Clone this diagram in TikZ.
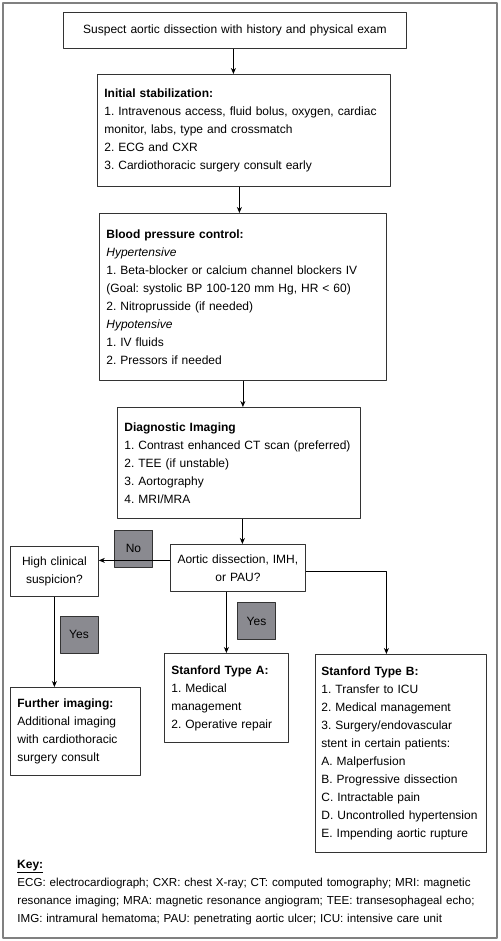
\documentclass[tikz,border=0pt]{standalone}
\usepackage{fontspec}
\setmainfont{Liberation Sans}
\usetikzlibrary{positioning,arrows.meta}
\definecolor{tagfill}{RGB}{138,138,144}
\definecolor{framegray}{RGB}{128,128,128}
\frenchspacing
\tikzset{
  box/.style={draw=black!80, line width=0.8pt, inner xsep=7pt, inner ysep=0pt,
    align=left, anchor=north west, font=\fontsize{12}{18}\selectfont},
  midbox/.style={box, align=center, inner xsep=2pt},
  tag/.style={draw=black!80, fill=tagfill, line width=0.8pt, inner sep=0pt,
    minimum width=38pt, minimum height=37pt, font=\fontsize{12}{14}\selectfont},
  flow/.style={-{Stealth[length=6pt,width=5pt]}, line width=0.8pt}
}
\begin{document}
\begin{tikzpicture}[x=1pt,y=-1pt,line join=round]
	\useasboundingbox (0,0) rectangle (500,941);
	\draw[framegray, line width=1.5pt] (3,3) rectangle (497,938);
	% main column
	\node[midbox, minimum width=343pt, minimum height=36pt, text width=339pt] (susp) at (63,12)
		{Suspect aortic dissection with history and physical exam};
	\node[box, minimum width=293pt, minimum height=112pt, text width=279pt] (init) at (97,74)
		{\textbf{Initial stabilization:}\\
		1. Intravenous access, fluid bolus, oxygen, cardiac\\
		monitor, labs, type and crossmatch\\
		2. ECG and CXR\\
		3. Cardiothoracic surgery consult early};
	\node[box, minimum width=287pt, minimum height=167pt, text width=273pt] (bp) at (99,213)
		{\textbf{Blood pressure control:}\\
		\textit{Hypertensive}\\
		1. Beta-blocker or calcium channel blockers IV\\
		(Goal: systolic BP 100-120 mm Hg, HR < 60)\\
		2. Nitroprusside (if needed)\\
		\textit{Hypotensive}\\
		1. IV fluids\\
		2. Pressors if needed};
	\node[box, minimum width=243pt, minimum height=111pt, text width=229pt] (diag) at (117,407)
		{\textbf{Diagnostic Imaging}\\
		1. Contrast enhanced CT scan (preferred)\\
		2. TEE (if unstable)\\
		3. Aortography\\
		4. MRI/MRA};
	\node[midbox, minimum width=135pt, minimum height=47pt, text width=131pt] (dec) at (170,544)
		{Aortic dissection, IMH,\\ or PAU?};
	% branches
	\node[midbox, minimum width=88pt, minimum height=50pt, text width=84pt] (high) at (10,546)
		{High clinical\\ suspicion?};
	\node[box, minimum width=130pt, minimum height=88pt, text width=116pt] (further) at (10,687)
		{\textbf{Further imaging:}\\
		Additional imaging\\
		with cardiothoracic\\
		surgery consult};
	\node[box, minimum width=124pt, minimum height=89pt, text width=110pt] (typeA) at (164,653)
		{\textbf{Stanford Type A:}\\
		1. Medical\\
		management\\
		2. Operative repair};
	\node[box, minimum width=171pt, minimum height=198pt, text width=159pt, inner xsep=6pt] (typeB) at (315,654)
		{\textbf{Stanford Type B:}\\
		1. Transfer to ICU\\
		2. Medical management\\
		3. Surgery/endovascular\\
		stent in certain patients:\\
		A. Malperfusion\\
		B. Progressive dissection\\
		C. Intractable pain\\
		D. Uncontrolled hypertension\\
		E. Impending aortic rupture};
	% answers
	\node[tag] (no) at (133.5,548.5) {No};
	\node[tag] (yesA) at (256.5,621) {Yes};
	\node[tag] (yesH) at (79,634.5) {Yes};
	% key
	\node[anchor=base west, inner sep=0pt, font=\fontsize{12}{18}\selectfont] (keyhead) at (17,868.5)
		{\underline{\textbf{Key:}}};
	\node[box, draw=none, anchor=north west, text width=480pt,
		font=\fontsize{11.6}{18}\selectfont] (keytext) at (10,877.5)
		{ECG: electrocardiograph; CXR: chest X-ray; CT: computed tomography; MRI: magnetic\\
		resonance imaging; MRA: magnetic resonance angiogram; TEE: transesophageal echo;\\
		IMG: intramural hematoma; PAU: penetrating aortic ulcer; ICU: intensive care unit};
	% connectors
	\draw[flow] ([xshift=-1.5pt]susp.south) -- ([xshift=-1.5pt]susp.south |- init.north);
	\draw[flow] ([xshift=-4.5pt]init.south) -- ([xshift=-4.5pt]init.south |- bp.north);
	\draw[flow] (bp.south) -- (bp.south |- diag.north);
	\draw[flow] ([xshift=3.5pt]diag.south) -- ([xshift=3.5pt]diag.south |- dec.north);
	\draw[flow] ([yshift=7.5pt]dec.west) -- ([yshift=7.5pt]dec.west -| high.east);
	\draw[flow] ([xshift=-11.5pt]dec.south) -- ([xshift=-11.5pt]dec.south |- typeA.north);
	\draw[flow] ([yshift=-3.5pt]dec.east) -| ([xshift=-14.5pt]typeB.north);
	\draw[flow] (high.south) -- (high.south |- further.north);
\end{tikzpicture}
\end{document}
